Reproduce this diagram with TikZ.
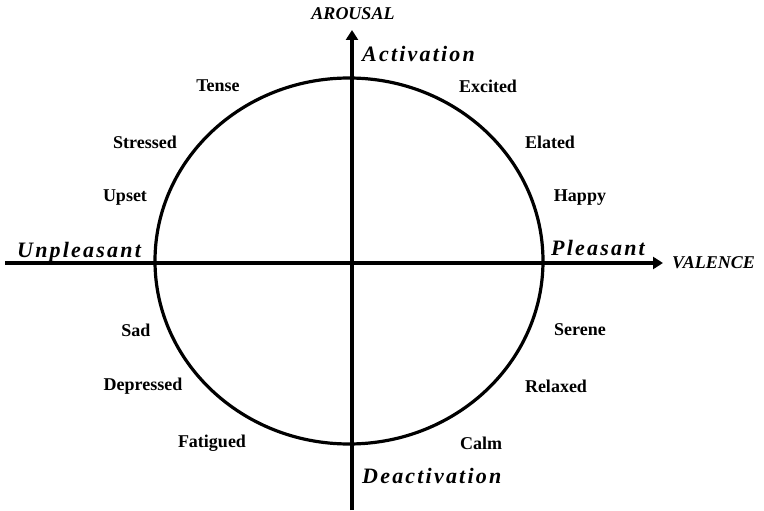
\documentclass[tikz,border=0pt]{standalone}
\usepackage{fontspec}
\setmainfont{Liberation Serif}
\usetikzlibrary{arrows.meta}
\newfontfamily\spacedbi[LetterSpace=10]{Liberation Serif}
\tikzset{
  emo/.style={font=\bfseries\fontsize{18}{20}\selectfont, anchor=center, inner sep=0pt},
  pole/.style={font=\spacedbi\bfseries\itshape\fontsize{22}{24}\selectfont, anchor=base west, inner sep=0pt},
  axislab/.style={font=\bfseries\itshape\fontsize{18}{20}\selectfont, inner sep=0pt},
  axis/.style={line width=3.2pt, -{Triangle[length=10pt,width=12pt]}},
  ring/.style={line width=3.2pt}
}
\begin{document}
\begin{tikzpicture}[x=1pt,y=-1pt]
\useasboundingbox (0,0) rectangle (764,511);
% ellipse
\draw[ring] (349,261) ellipse [x radius=194, y radius=183];
% axes
\coordinate (vbot) at (352,510);
\coordinate (vtop) at (352,30);
\coordinate (hleft) at (5,263);
\coordinate (hright) at (663,263);
\draw[axis] (vbot) -- (vtop);
\draw[axis] (hleft) -- (hright);
% axis labels
\node[axislab, anchor=base] (arousal) at (353,20) {AROUSAL};
\node[axislab, anchor=base west] (valence) at (672,268) {VALENCE};
% poles
\node[pole] (act) at (362,62) {Activation};
\node[pole] (deact) at (362,483) {Deactivation};
\node[pole] (unpl) at (17,257) {Unpleasant};
\node[pole] (pl) at (551,255) {Pleasant};
% emotions
\node[emo] (tense) at (218,86) {Tense};
\node[emo] (excited) at (488,86) {Excited};
\node[emo] (stressed) at (145,142) {Stressed};
\node[emo] (elated) at (550,142) {Elated};
\node[emo] (upset) at (125,198) {Upset};
\node[emo] (happy) at (580,198) {Happy};
\node[emo] (sad) at (136,330) {Sad};
\node[emo] (serene) at (580,330) {Serene};
\node[emo] (depressed) at (143,386) {Depressed};
\node[emo] (relaxed) at (556,386) {Relaxed};
\node[emo] (fatigued) at (212,443) {Fatigued};
\node[emo] (calm) at (481,443) {Calm};
\end{tikzpicture}
\end{document}
